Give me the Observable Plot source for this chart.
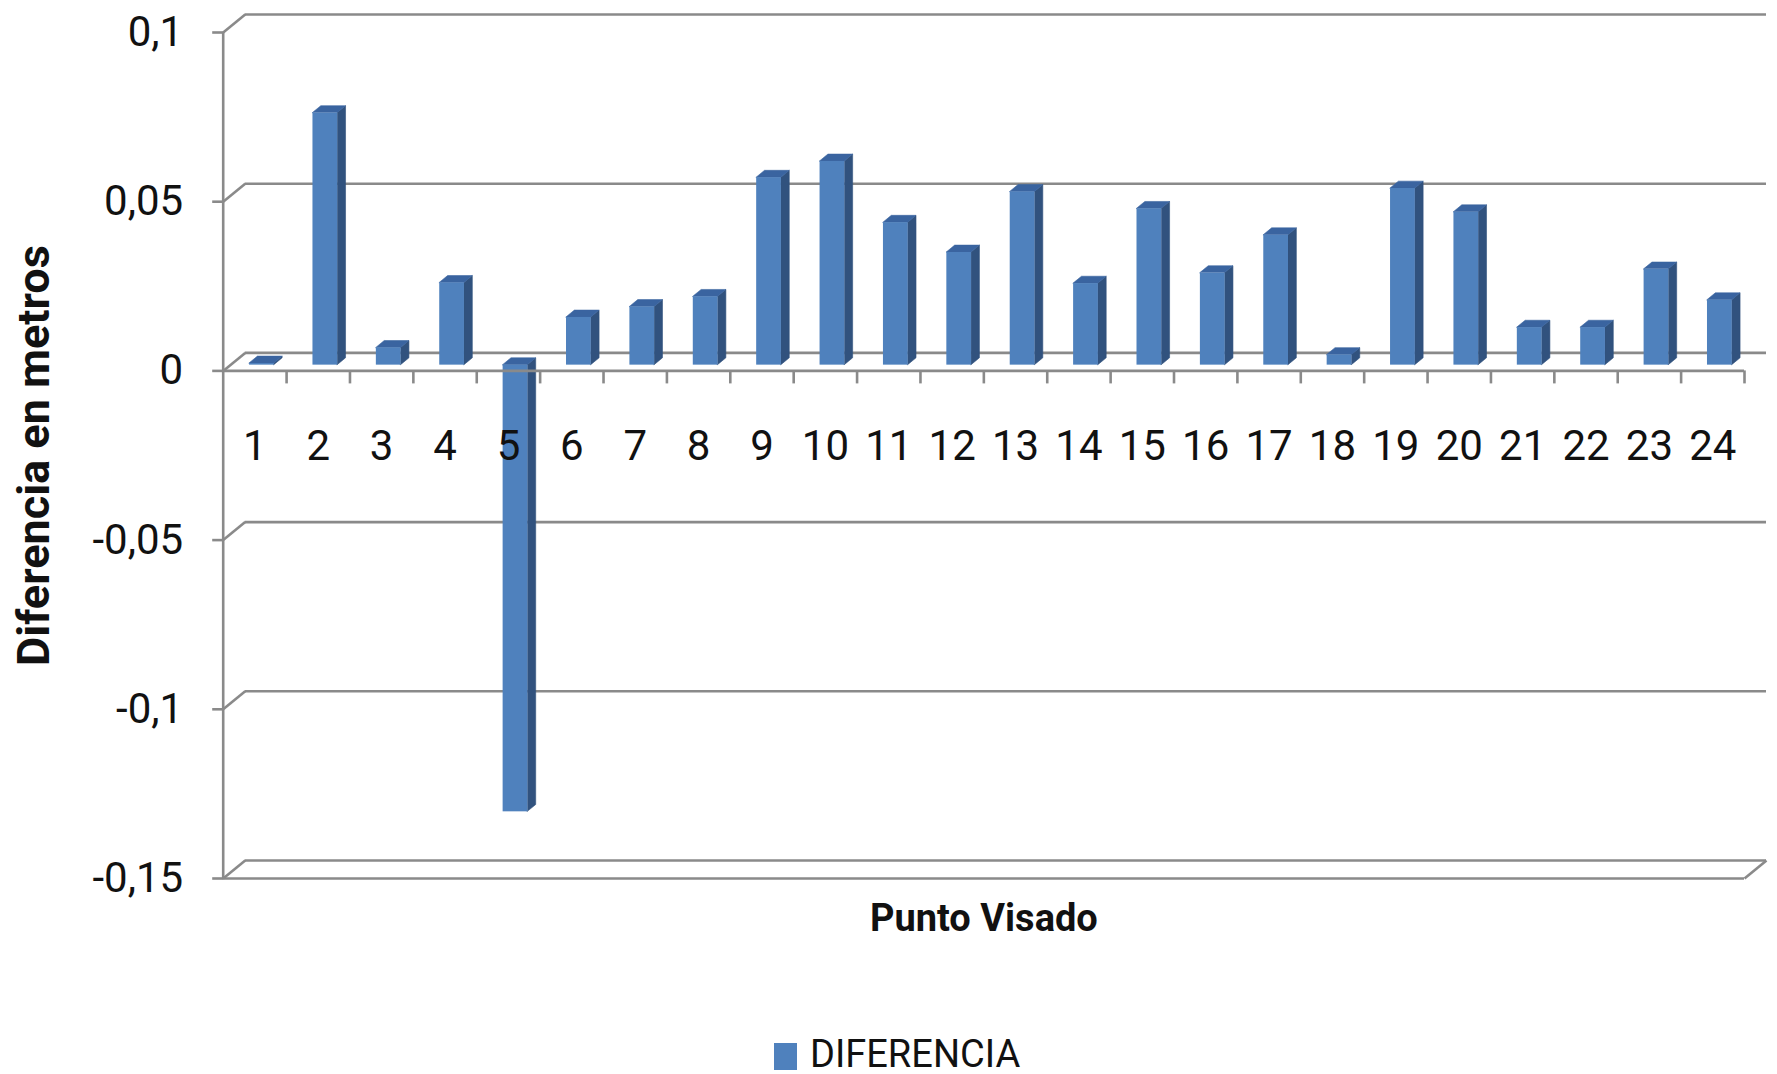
<!DOCTYPE html>
<html>
<head>
<meta charset="utf-8">
<script src="https://cdn.jsdelivr.net/npm/d3@7"></script>
<script src="https://cdn.jsdelivr.net/npm/@observablehq/plot@0.6"></script>
<style>
  html, body { margin: 0; padding: 0; background: #fff; }
  #chart { width: 1777px; }
  #legend { position: relative; width: 1777px; height: 44px; font-family: Roboto, sans-serif; }
  #legend .swatch { position: absolute; left: 774px; top: 13px; width: 23px; height: 27px; background: #4f81bd; }
  #legend .label { position: absolute; left: 810px; top: 9px; font-size: 38px; line-height: 30px; color: #111; white-space: nowrap; }
</style>
</head>
<body>
<div id="chart"></div>
<div id="legend"><div class="swatch"></div><div class="label"></div></div>
<script>
// Surveyed points and their differences (metres)
const puntos = ["1","2","3","4","5","6","7","8","9","10","11","12","13","14","15","16","17","18","19","20","21","22","23","24"];
const diferencia = [0.0005, 0.0745, 0.0051, 0.0243, -0.132, 0.0141, 0.0172, 0.0202, 0.0554, 0.0602, 0.0421, 0.0333,
                    0.0512, 0.0241, 0.0462, 0.0272, 0.0384, 0.003, 0.0522, 0.0452, 0.0111, 0.0111, 0.0283, 0.0192];
const yTicks = [-0.15, -0.1, -0.05, 0, 0.05, 0.1];
const serie = "DIFERENCIA";
const tituloY = "Diferencia en metros";
const tituloX = "Punto Visado";

// Frame geometry
const W = 1777, H = 1030;
const frameL = 222.7, frameR = 1744, frameT = 32, frameB = 878;
const n = puntos.length;
const yDomain = [-0.15, 0.1];

// Pixel -> data unit conversions for the pseudo-3D offsets
const ux = n / (frameR - frameL);
const uy = (yDomain[1] - yDomain[0]) / (frameB - frameT);
const depthX = 22 * ux, depthY = 18 * uy;      // back wall offset
const barW = 0.39;                              // bar width (category units)
const barFront = 0.32, barDepth = 0.38;         // fraction of the wall depth

const rows = puntos.map((p, i) => {
  const v = diferencia[i];
  const lo = Math.min(0, v), hi = Math.max(0, v);
  const x1 = i + 0.5 - barW / 2 + barFront * depthX;
  const x2 = x1 + barW;
  const yb = barFront * depthY;
  return {punto: p, i, v, lo: lo + yb, hi: hi + yb, x1, x2};
});
const bx = barDepth * depthX, by = barDepth * depthY;

const sides = rows.flatMap(d => [
  {i: d.i, x: d.x2, y1: d.lo, y2: d.hi},
  {i: d.i, x: d.x2 + bx, y1: d.lo + by, y2: d.hi + by}
]);
const tops = rows.flatMap(d => [
  {i: d.i, y: d.hi, x1: d.x1, x2: d.x2},
  {i: d.i, y: d.hi + by, x1: d.x1 + bx, x2: d.x2 + bx}
]);

const grid = "#8a8a8a", gw = 2.6;
const fmt = d => String(d).replace(".", ",");
const font = "Roboto, sans-serif";

const chart = Plot.plot({
  width: W,
  height: H,
  marginLeft: frameL,
  marginRight: W - frameR,
  marginTop: frameT,
  marginBottom: H - frameB,
  style: {fontFamily: font, background: "#fff", color: "#111"},
  x: {domain: [0, n], axis: null},
  y: {domain: yDomain, axis: null},
  marks: [
    // back wall gridlines and their connectors to the front axis
    Plot.ruleY(yTicks, {y: d => d + depthY, x1: depthX, x2: n + depthX, stroke: grid, strokeWidth: gw}),
    Plot.link(yTicks, {x1: 0, y1: d => d, x2: depthX, y2: d => d + depthY, stroke: grid, strokeWidth: gw}),
    // floor plate at the bottom
    Plot.ruleY([yDomain[0]], {x1: 0, x2: n, stroke: grid, strokeWidth: gw}),
    Plot.link([yDomain[0]], {x1: n, y1: d => d, x2: n + depthX, y2: d => d + depthY, stroke: grid, strokeWidth: gw}),
    // vertical axis and its ticks
    Plot.ruleX([0], {y1: yDomain[0], y2: yDomain[1], stroke: grid, strokeWidth: gw}),
    Plot.link(yTicks, {x1: -11 * ux, x2: 0, y1: d => d, y2: d => d, stroke: grid, strokeWidth: gw}),
    // category ticks under the zero line
    Plot.ruleX(d3.range(1, n + 1), {x: d => d, y1: 0, y2: -13 * uy, stroke: grid, strokeWidth: gw}),
    // 3D columns: side, top and front faces
    Plot.areaY(sides, {x: "x", y1: "y1", y2: "y2", z: "i", fill: "#31527e", stroke: "#31527e", strokeWidth: 0.6}),
    Plot.areaX(tops, {y: "y", x1: "x1", x2: "x2", z: "i", fill: "#3a64a0", stroke: "#3a64a0", strokeWidth: 0.6}),
    Plot.rect(rows, {x1: "x1", x2: "x2", y1: "lo", y2: "hi", fill: "#4f81bd"}),
    // front edge of the zero floor
    Plot.ruleY([0], {x1: 0, x2: n, stroke: grid, strokeWidth: gw}),
    // category labels
    Plot.text(rows, {x: d => d.i + 0.5, y: 0, text: "punto", dy: 76, fontSize: 42, fill: "#111"}),
    // value labels
    Plot.text(yTicks, {x: 0, y: d => d, text: fmt, textAnchor: "end", dx: -40, fontSize: 42, fill: "#111"}),
    // axis titles
    Plot.text([tituloY], {frameAnchor: "left", textAnchor: "middle", rotate: -90, dx: -189, fontSize: 45, fontWeight: "bold", fill: "#111"}),
    Plot.text([tituloX], {frameAnchor: "bottom", textAnchor: "middle", dy: 52, fontSize: 38, fontWeight: "bold", fill: "#111"})
  ]
});
document.getElementById("chart").appendChild(chart);
document.querySelector("#legend .label").textContent = serie;
</script>
</body>
</html>
